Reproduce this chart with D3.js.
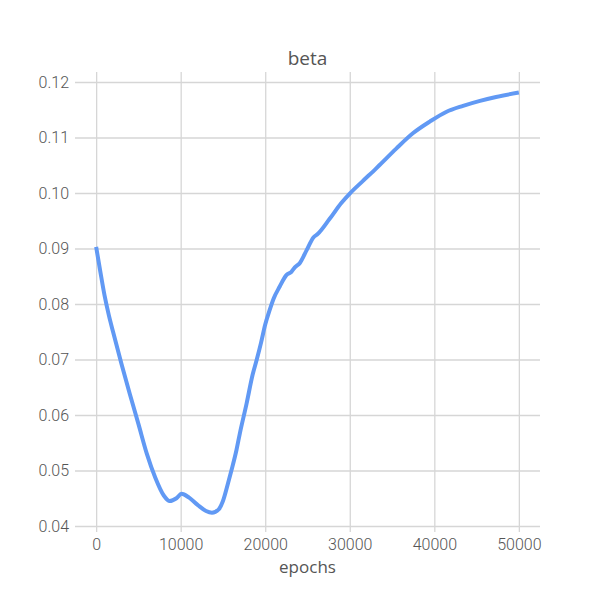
<!DOCTYPE html>
<html>
<head>
<meta charset="utf-8">
<script src="https://cdn.jsdelivr.net/npm/d3@7"></script>
<style>
  body { margin: 0; background: #fff; }
  svg { display: block; }
</style>
</head>
<body>
<svg id="chart" width="600" height="600"></svg>
<script>
const title = "beta";
const xLabel = "epochs";
const xTicks = [0, 10000, 20000, 30000, 40000, 50000];
const yTicks = [0.04, 0.05, 0.06, 0.07, 0.08, 0.09, 0.10, 0.11, 0.12];
const epochs = [0, 500, 1000, 1500, 2000, 3000, 4000, 5000, 6000, 7000, 8000, 8700, 9500, 10100, 11000, 12000, 13000, 13700, 14500, 15000, 15600, 16000, 16600, 17000, 17800, 18500, 19000, 19500, 20000, 20500, 21000, 21700, 22500, 23100, 23500, 24100, 24900, 25700, 26200, 27600, 29000, 30000, 31500, 33100, 33700, 35500, 37500, 39500, 41400, 43400, 45400, 47300, 50000];
const beta = [0.0903, 0.0858, 0.0815, 0.0780, 0.0750, 0.0692, 0.0637, 0.0584, 0.0530, 0.0487, 0.0455, 0.0445, 0.0450, 0.0458, 0.0451, 0.0438, 0.0427, 0.0424, 0.0430, 0.0445, 0.0477, 0.0500, 0.0537, 0.0567, 0.0621, 0.0672, 0.0700, 0.0730, 0.0763, 0.0788, 0.0810, 0.0831, 0.0852, 0.0858, 0.0866, 0.0874, 0.0897, 0.0920, 0.0926, 0.0953, 0.0982, 0.0999, 0.1021, 0.1044, 0.1053, 0.1080, 0.1108, 0.1129, 0.1146, 0.1157, 0.1166, 0.1173, 0.1181];

const data = epochs.map((e, i) => ({ x: e, y: beta[i] }));

const L = 75, R = 540, T = 72, B = 532;
const svg = d3.select("#chart");
const x = d3.scaleLinear().domain([-2500, 52500]).range([L, R]);
const y = d3.scaleLinear().domain([0.038919, 0.121802]).range([B, T]);

const tickFont = "Roboto, 'Noto Sans', sans-serif";
const labelFont = "'Open Sans', 'Noto Sans', sans-serif";
const gridColor = "#d6d6d6";
const textColor = "#555";

// x grid + ticks
const gx = svg.append("g")
  .attr("transform", `translate(0,${B})`)
  .call(d3.axisBottom(x).tickValues(xTicks).tickFormat(d3.format("d"))
    .tickSize(-(B - T)).tickSizeOuter(0).tickPadding(8));
gx.select(".domain").remove();
gx.selectAll(".tick line").attr("stroke", gridColor).attr("stroke-width", 1.3);
gx.selectAll(".tick text").attr("fill", textColor).attr("font-family", tickFont)
  .attr("font-size", 16).attr("font-weight", 300).attr("dy", "0.9em").attr("y", 4);

// y grid + ticks
const gy = svg.append("g")
  .attr("transform", `translate(${L},0)`)
  .call(d3.axisLeft(y).tickValues(yTicks).tickFormat(d3.format(".2f"))
    .tickSize(-(R - L)).tickSizeOuter(0).tickPadding(6));
gy.select(".domain").remove();
gy.selectAll(".tick line").attr("stroke", gridColor).attr("stroke-width", 1.3);
gy.selectAll(".tick text").attr("fill", textColor).attr("font-family", tickFont)
  .attr("font-size", 16).attr("font-weight", 300).attr("x", -6);

// line
const line = d3.line().x(d => x(d.x)).y(d => y(d.y)).curve(d3.curveMonotoneX);
svg.append("path").datum(data)
  .attr("fill", "none")
  .attr("stroke", "#6199f4")
  .attr("stroke-width", 4)
  .attr("stroke-linejoin", "round")
  .attr("d", line);

// title
svg.append("text").attr("x", (L + R) / 2).attr("y", 65)
  .attr("text-anchor", "middle").attr("font-family", labelFont)
  .attr("font-size", 19).attr("fill", textColor).text(title);

// x label
svg.append("text").attr("x", (L + R) / 2).attr("y", 573)
  .attr("text-anchor", "middle").attr("font-family", labelFont)
  .attr("font-size", 17).attr("fill", textColor).text(xLabel);
</script>
</body>
</html>
